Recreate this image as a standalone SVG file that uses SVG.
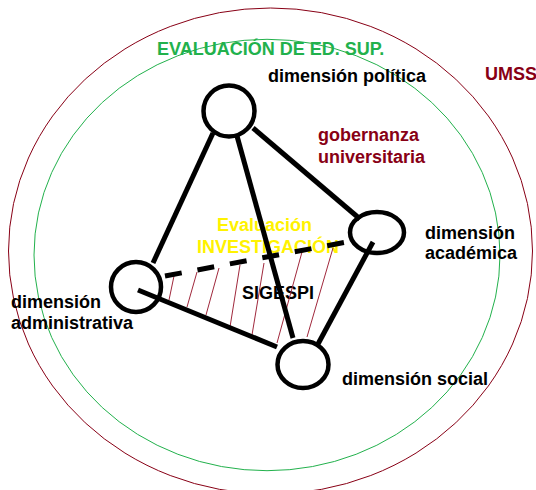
<svg xmlns="http://www.w3.org/2000/svg" width="536" height="490" viewBox="0 0 536 490">
<style>
text{font-family:"Liberation Sans",Arial,sans-serif;font-weight:bold;font-size:18px}
.lbl{fill:#000}
.red{fill:#880015}
.node{fill:none;stroke:#000;stroke-width:4.5}
.edge{stroke:#000;stroke-width:5;stroke-linecap:butt;fill:none}
.hatch{stroke:#a0283c;stroke-width:1}
</style>
<rect width="536" height="490" fill="#fff"/>
<g id="frames">
<ellipse cx="270.5" cy="251" rx="262" ry="243" fill="none" stroke="#880015" stroke-width="1"/>
<ellipse cx="267" cy="255" rx="233" ry="215.7" fill="none" stroke="#22b14c" stroke-width="1"/>
<text x="157" y="55" fill="#22b14c">EVALUACIÓN DE ED. SUP.</text>
<text x="485" y="80" class="red">UMSS</text>
<text x="318" y="141" class="red">gobernanza</text>
<text x="318" y="163" class="red">universitaria</text>
<text x="217" y="231" fill="#fff200">Evaluación</text>
<text x="197" y="253" fill="#fff200">INVESTIGACIÓN</text>
<text x="242" y="299" class="lbl">SIGESPI</text>
</g>
<g id="node-politica">
<circle cx="229" cy="111" r="25.5" class="node"/>
<text x="268" y="82" class="lbl">dimensión política</text>
</g>
<g id="node-academica">
<ellipse cx="377" cy="232.5" rx="27" ry="20.5" class="node"/>
<text x="425" y="239" class="lbl">dimensión</text>
<text x="425" y="259" class="lbl">académica</text>
</g>
<g id="node-administrativa">
<circle cx="136" cy="287" r="25" class="node"/>
<text x="11" y="308" class="lbl">dimensión</text>
<text x="11" y="329" class="lbl">administrativa</text>
</g>
<g id="node-social">
<ellipse cx="303" cy="364.5" rx="25.5" ry="23.5" class="node"/>
<text x="342" y="385" class="lbl">dimensión social</text>
</g>
<g id="connectors">
<g class="hatch">
<line x1="174" y1="276" x2="169" y2="300"/>
<line x1="197" y1="272" x2="187" y2="307"/>
<line x1="219" y1="268" x2="206" y2="315"/>
<line x1="240" y1="265" x2="230" y2="327"/>
<line x1="264" y1="263" x2="252" y2="335"/>
<line x1="302" y1="252" x2="277" y2="343"/>
<line x1="333" y1="248" x2="307" y2="337"/>
</g>
<line x1="213" y1="133" x2="153" y2="263" class="edge"/>
<line x1="237" y1="136" x2="293" y2="338" class="edge"/>
<line x1="253" y1="128" x2="360" y2="219" class="edge"/>
<line x1="373" y1="242" x2="318" y2="344" class="edge"/>
<line x1="138" y1="290" x2="277" y2="347" class="edge"/>
<line x1="165" y1="276" x2="347" y2="242" class="edge" stroke-dasharray="17 16"/>
</g>
</svg>
